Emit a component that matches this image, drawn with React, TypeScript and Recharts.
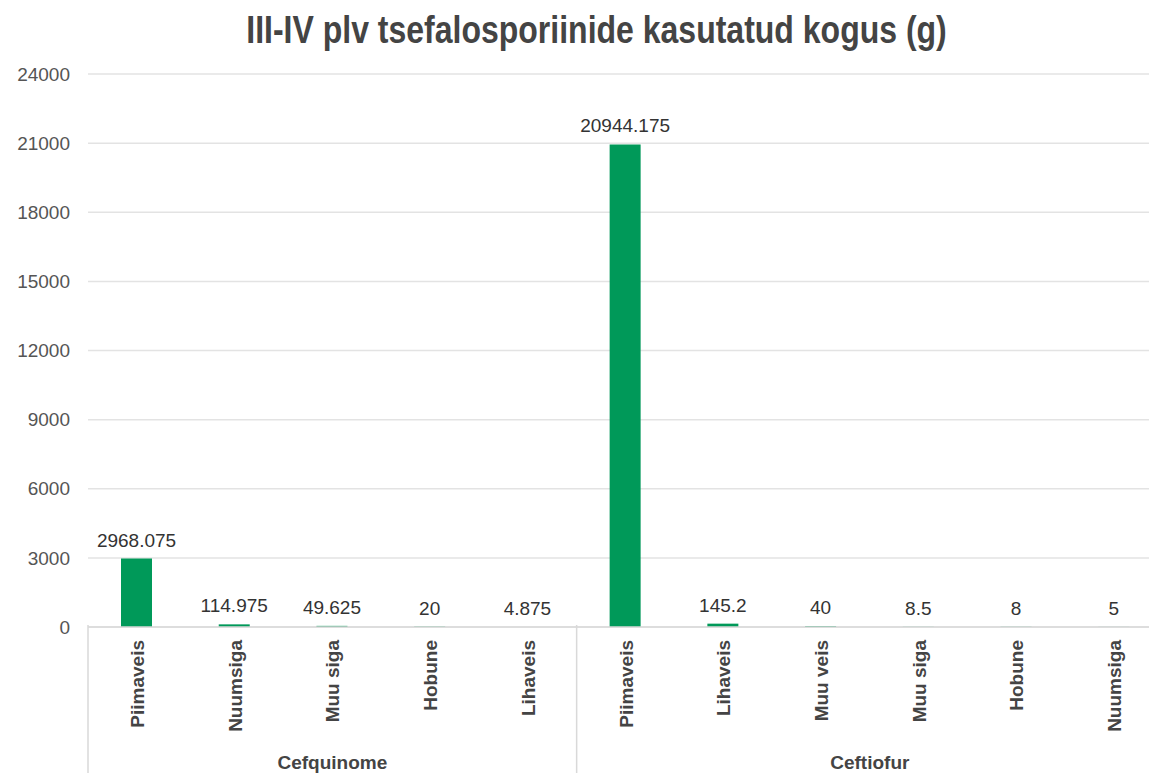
import React from 'react';
import { BarChart, Bar, XAxis, YAxis, CartesianGrid, LabelList } from 'recharts';

const categories = [
  'Piimaveis', 'Nuumsiga', 'Muu siga', 'Hobune', 'Lihaveis',
  'Piimaveis', 'Lihaveis', 'Muu veis', 'Muu siga', 'Hobune', 'Nuumsiga'];

const groups = [
  'Cefquinome', 'Cefquinome', 'Cefquinome', 'Cefquinome', 'Cefquinome',
  'Ceftiofur', 'Ceftiofur', 'Ceftiofur', 'Ceftiofur', 'Ceftiofur', 'Ceftiofur'];

const values = [2968.075, 114.975, 49.625, 20, 4.875, 20944.175, 145.2, 40, 8.5, 8, 5];

const yTicks = [0, 3000, 6000, 9000, 12000, 15000, 18000, 21000, 24000];

const data = categories.map((name, i) => ({ name, group: groups[i], value: values[i] }));

const FONT = '"Liberation Sans", Arial, sans-serif';
const CHART_W = 1166;
const PLOT_LEFT = 88;
const PLOT_RIGHT = 1163;
const BAND = (PLOT_RIGHT - PLOT_LEFT) / categories.length;

const CategoryTick = (props: any) => {
  const { x, y, payload, index } = props;
  const tx = x + 7;
  const ty = 640;
  const first = index === 0 || groups[index] !== groups[index - 1];
  // group label sits in the middle of its run of categories
  let label = null;
  const g = groups[index];
  const start = groups.indexOf(g);
  const end = groups.lastIndexOf(g);
  if (index === start) {
    const cx = x + ((end - start) / 2) * BAND;
    label =
      <text x={cx} y={769} textAnchor="middle" fontFamily={FONT} fontWeight="bold" fontSize={19} fill="#444">
        {g}
      </text>;
  }
  return (
    <g>
      {first &&
      <line x1={x - BAND / 2} x2={x - BAND / 2} y1={y - 10} y2={773} stroke="#d9d9d9" strokeWidth={1.5} />
      }
      <text
        x={tx}
        y={ty}
        transform={`rotate(-90, ${tx}, ${ty})`}
        textAnchor="end"
        fontFamily={FONT}
        fontWeight="bold"
        fontSize={19}
        fill="#444">
        {payload.value}
      </text>
      {label}
    </g>);
};

export default function App() {
  return (
    <div style={{ position: 'absolute', left: 0, top: 0, width: 1149, height: 773, overflow: 'hidden', background: '#fff' }}>
      <div
        style={{
          position: 'absolute',
          left: 0,
          width: 1193,
          top: 8,
          textAlign: 'center',
          fontFamily: FONT,
          fontWeight: 'bold',
          fontSize: 32,
          color: '#444',
          transform: 'scaleY(1.2)',
          transformOrigin: 'top',
          lineHeight: '36px'
        }}>
        III-IV plv tsefalosporiinide kasutatud kogus (g)
      </div>
      <BarChart
        width={CHART_W}
        height={773}
        data={data}
        margin={{ top: 74, right: CHART_W - PLOT_RIGHT, bottom: 0, left: 0 }}
        barCategoryGap={0}>
        <CartesianGrid vertical={false} stroke="#e3e3e3" strokeWidth={1.5} />
        <YAxis
          width={PLOT_LEFT}
          domain={[0, 24000]}
          ticks={yTicks}
          axisLine={false}
          tickLine={false}
          tickSize={0}
          tickMargin={18}
          tick={{ fontFamily: FONT, fontSize: 19, fill: '#555' }} />
        <XAxis
          dataKey="name"
          height={146}
          interval={0}
          axisLine={{ stroke: '#d9d9d9', strokeWidth: 1.5 }}
          tickLine={false}
          tick={<CategoryTick />} />
        <Bar dataKey="value" fill="#009959" barSize={31} isAnimationActive={false}>
          <LabelList dataKey="value" position="top" offset={12} fontFamily={FONT} fontSize={19} fill="#333" />
        </Bar>
      </BarChart>
    </div>);
}
